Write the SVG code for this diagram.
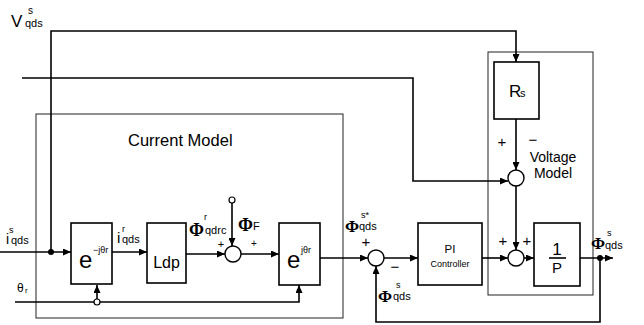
<svg xmlns="http://www.w3.org/2000/svg" width="644" height="325" viewBox="0 0 644 325">
<defs>
<marker id="arr" markerWidth="8" markerHeight="7" refX="8" refY="3.5" orient="auto" markerUnits="userSpaceOnUse">
<path d="M0,0 L8,3.5 L0,7 z" fill="#000"/>
</marker>
<style>
.frame{fill:none;stroke:#222;stroke-width:1}
.blk{fill:#fff;stroke:#000;stroke-width:1.6}
.sum{fill:#fff;stroke:#000;stroke-width:1.4}
.ln{fill:none;stroke:#000;stroke-width:1.6}
.t{font-family:"Liberation Sans",Arial,sans-serif;fill:#000}
.phi{font-family:"Liberation Serif","DejaVu Serif",serif;fill:#000;font-weight:bold}
</style>
</defs>
<rect width="644" height="325" fill="#fff"/>

<g id="current-model">
<rect class="frame" x="36" y="114" width="307" height="204"/>
<text class="t" x="128" y="146" font-size="16.5">Current Model</text>
</g>
<g id="voltage-model">
<rect class="frame" x="488" y="52" width="105" height="243"/>
<text class="t" x="553" y="162" font-size="14" text-anchor="middle">Voltage</text>
<text class="t" x="553" y="178" font-size="14" text-anchor="middle">Model</text>
</g>

<g id="connectors">
<path class="ln" d="M51,252 V31 H516 V62" marker-end="url(#arr)"/>
<path class="ln" d="M22,78 H413 V181 H508" marker-end="url(#arr)"/>
<path class="ln" d="M0,252 H71" marker-end="url(#arr)"/>
<path class="ln" d="M112,252 H147" marker-end="url(#arr)"/>
<path class="ln" d="M186,254 H225" marker-end="url(#arr)"/>
<path class="ln" d="M232,203 V246" marker-end="url(#arr)"/>
<path class="ln" d="M241,254 H279" marker-end="url(#arr)"/>
<path class="ln" d="M320,258 H368" marker-end="url(#arr)"/>
<path class="ln" d="M384,258 H418" marker-end="url(#arr)"/>
<path class="ln" d="M482,258 H508" marker-end="url(#arr)"/>
<path class="ln" d="M524,258 H534" marker-end="url(#arr)"/>
<path class="ln" d="M580,258 H613" marker-end="url(#arr)"/>
<path class="ln" d="M600,258 V322 H376 V266" marker-end="url(#arr)"/>
<path class="ln" d="M516,119 V170" marker-end="url(#arr)"/>
<path class="ln" d="M516,186 V250" marker-end="url(#arr)"/>
<path class="ln" d="M15,302 H94 M100,302 H299 V285" marker-end="url(#arr)"/>
<path class="ln" d="M97,299 V285" marker-end="url(#arr)"/>
<circle cx="51" cy="252" r="3" fill="#000"/>
<circle cx="600" cy="258" r="3" fill="#000"/>
<circle cx="97" cy="302" r="3" fill="#fff" stroke="#000" stroke-width="1.2"/>
<circle cx="232" cy="200" r="3" fill="#fff" stroke="#000" stroke-width="1.2"/>
</g>

<g id="e-neg">
<rect class="blk" x="71" y="223" width="41" height="61"/>
<text class="t" x="79" y="268" font-size="24">e</text>
<text class="t" x="93" y="253" font-size="9">−jθr</text>
</g>
<g id="ldp">
<rect class="blk" x="147" y="223" width="39" height="60"/>
<text class="t" x="166.5" y="268" font-size="16" text-anchor="middle">Ldp</text>
</g>
<g id="sum1">
<circle class="sum" cx="233" cy="254" r="8"/>
<text class="t" x="221" y="248" font-size="11" text-anchor="middle">+</text>
<text class="t" x="254" y="247" font-size="10" text-anchor="middle">+</text>
</g>
<g id="e-pos">
<rect class="blk" x="279" y="223" width="41" height="62"/>
<text class="t" x="287" y="268" font-size="24">e</text>
<text class="t" x="301" y="253" font-size="9">jθr</text>
</g>
<g id="sum2">
<circle class="sum" cx="376" cy="258" r="8"/>
<text class="t" x="366" y="247" font-size="15" text-anchor="middle">+</text>
<text class="t" x="395" y="272" font-size="15" text-anchor="middle">−</text>
</g>
<g id="pi">
<rect class="blk" x="418" y="223" width="64" height="62"/>
<text class="t" x="450" y="253" font-size="11.5" text-anchor="middle">PI</text>
<text class="t" x="450" y="267" font-size="9" text-anchor="middle">Controller</text>
</g>
<g id="sum3">
<circle class="sum" cx="516" cy="258" r="8"/>
<text class="t" x="503" y="246" font-size="15" text-anchor="middle">+</text>
<text class="t" x="527" y="246" font-size="15" text-anchor="middle">+</text>
</g>
<g id="integrator">
<rect class="blk" x="534" y="223" width="46" height="63"/>
<text class="t" x="557" y="255" font-size="17" text-anchor="middle">1</text>
<line x1="549" y1="258" x2="566" y2="258" stroke="#000" stroke-width="1.6"/>
<text class="t" x="557" y="273" font-size="15" text-anchor="middle">P</text>
</g>
<g id="rs">
<rect class="blk" x="494" y="62" width="45" height="57"/>
<text class="t" x="509" y="97" font-size="17">R</text>
<text class="t" x="520" y="97" font-size="11">s</text>
</g>
<g id="sum-vm">
<circle class="sum" cx="516" cy="178" r="8"/>
<text class="t" x="502" y="147" font-size="15" text-anchor="middle">+</text>
<text class="t" x="533" y="145" font-size="15" text-anchor="middle">−</text>
</g>

<g id="labels">
<text class="t" x="11" y="27" font-size="17">V</text>
<text class="t" x="28" y="14" font-size="10">s</text>
<text class="t" x="25" y="27" font-size="11">qds</text>

<text class="t" x="9" y="233" font-size="9">s</text>
<text class="t" x="6" y="244" font-size="14">i</text>
<text class="t" x="11" y="244" font-size="11">qds</text>

<text class="t" x="17" y="292" font-size="12">θ</text>
<text class="t" x="25" y="293" font-size="8">r</text>

<text class="t" x="117" y="243" font-size="15">i</text>
<text class="t" x="122" y="232" font-size="9">r</text>
<text class="t" x="122" y="243" font-size="11">qds</text>

<text class="phi" x="189" y="236" font-size="18">Φ</text>
<text class="t" x="204" y="220" font-size="9">r</text>
<text class="t" x="205" y="234" font-size="11">qdrc</text>

<text class="phi" x="238" y="231" font-size="18">Φ</text>
<text class="t" x="253" y="230" font-size="11">F</text>

<text class="phi" x="345" y="232" font-size="17">Φ</text>
<text class="t" x="361" y="218" font-size="9">s*</text>
<text class="t" x="359" y="230" font-size="11">qds</text>

<text class="phi" x="378" y="302" font-size="17">Φ</text>
<text class="t" x="396" y="288" font-size="9">s</text>
<text class="t" x="393" y="300" font-size="11">qds</text>

<text class="phi" x="591" y="249" font-size="17">Φ</text>
<text class="t" x="607" y="236" font-size="9">s</text>
<text class="t" x="605" y="249" font-size="11">qds</text>
</g>
</svg>
